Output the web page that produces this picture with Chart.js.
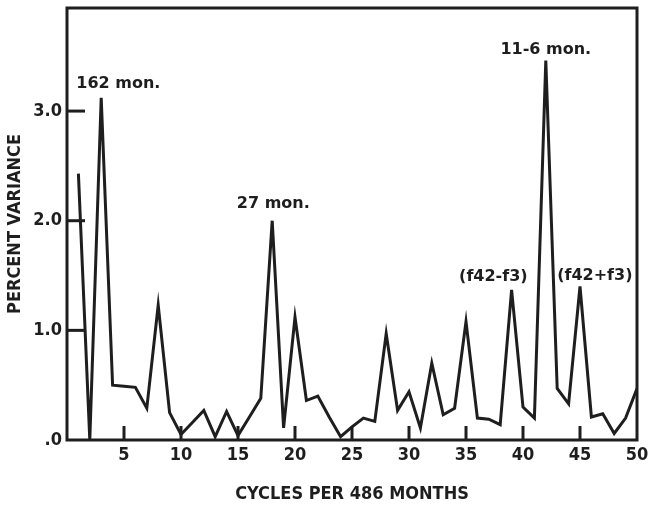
<!DOCTYPE html>
<html>
<head>
<meta charset="utf-8">
<script src="https://cdn.jsdelivr.net/npm/chart.js@4/dist/chart.umd.min.js"></script>
<style>
  html, body { margin: 0; padding: 0; background: #fff; }
  #wrap { width: 651px; height: 505px; }
</style>
</head>
<body>
<div id="wrap"><canvas id="grafico"></canvas></div>
<script>
// datos
const ciclos = [1, 2, 3, 4, 5, 6, 7, 8, 9, 10,
  11, 12, 13, 14, 15, 16, 17, 18, 19, 20,
  21, 22, 23, 24, 25, 26, 27, 28, 29, 30,
  31, 32, 33, 34, 35, 36, 37, 38, 39, 40,
  41, 42, 43, 44, 45, 46, 47, 48, 49, 50];
const varianza = [2.43, 0.0, 3.12, 0.50, 0.49, 0.48, 0.29, 1.23, 0.25, 0.05,
  0.16, 0.27, 0.03, 0.26, 0.04, 0.21, 0.38, 2.00, 0.11, 1.12,
  0.36, 0.40, 0.21, 0.03, 0.12, 0.20, 0.17, 0.97, 0.27, 0.44,
  0.11, 0.70, 0.23, 0.29, 1.08, 0.20, 0.19, 0.14, 1.37, 0.30,
  0.20, 3.46, 0.47, 0.33, 1.40, 0.21, 0.24, 0.06, 0.20, 0.47];

const ticksX = [5, 10, 15, 20, 25, 30, 35, 40, 45, 50];
const ticksY = [0, 1, 2, 3];
const etiquetasY = [".0", "1.0", "2.0", "3.0"];

const notas = ["162 mon.", "27 mon.", "11-6 mon.", "(f42-f3)", "(f42+f3)"];
const notasX = [4.5, 18.1, 42.0, 37.4, 46.3];
const notasY = [3.25, 2.15, 3.56, 1.49, 1.50];

const TINTA = "#1e1e1e";
const fuenteEje = "'DejaVu Sans Condensed', 'Liberation Sans Narrow', 'DejaVu Sans', sans-serif";

// marco, marcas interiores y notas
const marcoPlugin = {
  id: "marco",
  afterDatasetsDraw(chart) {
    const { ctx, chartArea: a, scales } = chart;
    ctx.save();
    ctx.strokeStyle = TINTA;
    ctx.lineWidth = 3;
    ctx.strokeRect(a.left, a.top, a.right - a.left, a.bottom - a.top);

    ticksY.forEach(v => {
      if (v === 0) return;
      const y = scales.y.getPixelForValue(v);
      ctx.beginPath();
      ctx.moveTo(a.left, y);
      ctx.lineTo(a.left + 18, y);
      ctx.stroke();
    });
    ticksX.forEach(v => {
      if (v === 50) return;
      const x = scales.x.getPixelForValue(v);
      ctx.beginPath();
      ctx.moveTo(x, a.bottom);
      ctx.lineTo(x, a.bottom - 14);
      ctx.stroke();
    });

    ctx.fillStyle = TINTA;
    ctx.font = "bold 16px 'DejaVu Sans', sans-serif";
    ctx.textAlign = "center";
    ctx.textBaseline = "middle";
    notas.forEach((t, i) => {
      ctx.fillText(t, scales.x.getPixelForValue(notasX[i]), scales.y.getPixelForValue(notasY[i]));
    });
    ctx.restore();
  }
};

const chart = new Chart(document.getElementById("grafico"), {
  type: "line",
  data: {
    datasets: [{
      data: ciclos.map((c, i) => ({ x: c, y: varianza[i] })),
      borderColor: TINTA,
      borderWidth: 3,
      pointRadius: 0,
      tension: 0,
      fill: false
    }]
  },
  options: {
    responsive: true,
    maintainAspectRatio: false,
    animation: false,
    layout: { padding: { top: 8, right: 14, left: 0, bottom: 0 } },
    plugins: { legend: { display: false }, tooltip: { enabled: false } },
    scales: {
      x: {
        type: "linear",
        min: 0,
        max: 50,
        afterFit: s => {
          s.height = 65;
          s.paddingLeft = 0;
          s.paddingRight = 0;
        },
        afterBuildTicks: s => { s.ticks = ticksX.map(v => ({ value: v })); },
        grid: { display: false, drawTicks: false },
        border: { display: false },
        ticks: {
          padding: 5,
          color: TINTA,
          maxRotation: 0,
          autoSkip: false,
          font: { family: fuenteEje, size: 18, weight: "bold" }
        },
        title: {
          display: true,
          text: "CYCLES PER 486 MONTHS",
          color: TINTA,
          padding: { top: 4, bottom: 0 },
          font: { family: fuenteEje, size: 18, weight: "bold" }
        }
      },
      y: {
        min: 0,
        max: 3.94,
        afterFit: s => {
          s.width = 67;
          s.paddingTop = 0;
          s.paddingBottom = 0;
        },
        afterBuildTicks: s => { s.ticks = ticksY.map(v => ({ value: v })); },
        grid: { display: false, drawTicks: false },
        border: { display: false },
        ticks: {
          padding: 5,
          color: TINTA,
          font: { family: fuenteEje, size: 18, weight: "bold" },
          callback: v => etiquetasY[ticksY.indexOf(v)]
        },
        title: {
          display: true,
          text: "PERCENT VARIANCE",
          color: TINTA,
          padding: { top: 5, bottom: 0 },
          font: { family: fuenteEje, size: 18, weight: "bold" }
        }
      }
    }
  },
  plugins: [marcoPlugin]
});
</script>
</body>
</html>
